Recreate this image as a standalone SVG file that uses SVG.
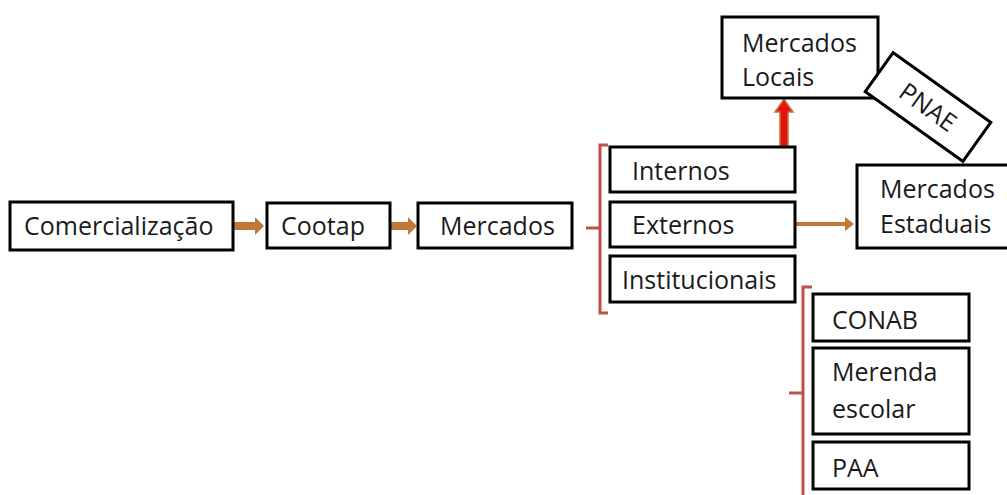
<svg xmlns="http://www.w3.org/2000/svg" width="1007" height="495" viewBox="0 0 1007 495">
<defs>
<style>
.box{fill:#fff;stroke:#000;stroke-width:3}
.t{font-family:"Open Sans","Noto Sans",sans-serif;font-size:25px;fill:#1a1a1a}
.br{fill:none;stroke:#c0504d;stroke-width:3}
.ar{fill:#c0773a}
</style>
</defs>
<rect width="1007" height="495" fill="#fff"/>
<g id="connectors">
<path class="ar" d="M233,222 h22 v-5 l9,9 l-9,9 v-5 h-22 z"/>
<path class="ar" d="M390,222 h18 v-5 l9,9 l-9,9 v-5 h-18 z"/>
<path class="ar" d="M795,222 h50 v-5 l9,7 l-9,7 v-5 h-50 z"/>
<path d="M780,146 v-34 h-5 l9,-13 l9,13 h-5 v34 z" fill="#e8120c" stroke="#c0773a" stroke-width="1.5"/>
<path class="br" d="M608,145 h-8 v83 h-14 M600,228 v85 h8"/>
<path class="br" d="M812,287 h-9 v106 h-14 M803,393 v102"/>
</g>
<g id="comercializacao"><rect class="box" x="10" y="202" width="223" height="48"/><text class="t" x="24" y="235">Comercialização</text></g>
<g id="cootap"><rect class="box" x="267" y="203" width="123" height="45"/><text class="t" x="281" y="235">Cootap</text></g>
<g id="mercados"><rect class="box" x="418" y="203" width="154" height="45"/><text class="t" x="440" y="235">Mercados</text></g>
<g id="internos"><rect class="box" x="610" y="147" width="185" height="45"/><text class="t" x="632" y="180">Internos</text></g>
<g id="externos"><rect class="box" x="610" y="202" width="185" height="45"/><text class="t" x="632" y="234">Externos</text></g>
<g id="institucionais"><rect class="box" x="610" y="256" width="185" height="46"/><text class="t" x="622" y="289">Institucionais</text></g>
<g id="mercados-locais"><rect class="box" x="722" y="17" width="156" height="81"/><text class="t" x="742" y="52">Mercados</text><text class="t" x="742" y="86">Locais</text></g>
<g id="pnae" transform="translate(928,107) rotate(35.5)"><rect class="box" x="-60" y="-24" width="120" height="48"/><text class="t" x="0" y="9" text-anchor="middle">PNAE</text></g>
<g id="mercados-estaduais"><rect class="box" x="857" y="165" width="160" height="83"/><text class="t" x="880" y="198">Mercados</text><text class="t" x="880" y="233">Estaduais</text></g>
<g id="conab"><rect class="box" x="813" y="294" width="156" height="47"/><text class="t" x="832" y="329">CONAB</text></g>
<g id="merenda"><rect class="box" x="813" y="348" width="156" height="86"/><text class="t" x="832" y="381">Merenda</text><text class="t" x="832" y="418">escolar</text></g>
<g id="paa"><rect class="box" x="813" y="442" width="156" height="47"/><text class="t" x="832" y="477">PAA</text></g>
</svg>
